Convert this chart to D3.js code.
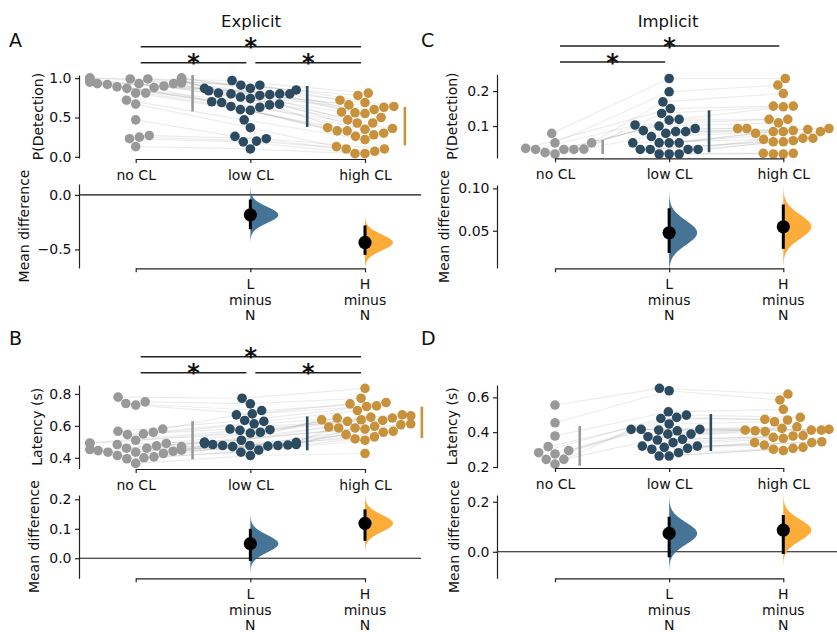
<!DOCTYPE html>
<html><head><meta charset="utf-8">
<script src="https://cdn.jsdelivr.net/npm/d3@7"></script>
<style>
body{margin:0;background:#fff;}
svg text{font-family:"DejaVu Sans",sans-serif;fill:#111;}
.axis .domain,.axis .tick line{stroke:#222;stroke-width:1.2;}
.axis text{font-size:14px;fill:#111;font-family:"DejaVu Sans",sans-serif;}
</style></head><body>
<svg id="chart" width="837" height="632"></svg>
<script>
// ---------- categories & labels ----------
const categories = ["no CL", "low CL", "high CL"];
const diffNames = [["L", "minus", "N"], ["H", "minus", "N"]];
const titles = ["Explicit", "Implicit"];
const panelLetters = ["A", "C", "B", "D"];

// ---------- A: Explicit, P(Detection) ----------
const expDetNo = [1.0, 1.0, 1.0, 1.0, 0.99, 0.99, 0.98, 0.98, 0.97, 0.96, 0.95, 0.95, 0.94, 0.93, 0.93, 0.93, 0.92, 0.90, 0.89, 0.88, 0.87, 0.81, 0.81, 0.72, 0.67, 0.47, 0.27, 0.25, 0.23, 0.13];
const expDetLow = [0.97, 0.91, 0.91, 0.87, 0.87, 0.85, 0.84, 0.81, 0.80, 0.80, 0.80, 0.79, 0.78, 0.76, 0.74, 0.70, 0.69, 0.67, 0.66, 0.64, 0.63, 0.60, 0.59, 0.47, 0.37, 0.26, 0.23, 0.20, 0.19, 0.10];
const expDetHigh = [0.81, 0.78, 0.72, 0.69, 0.66, 0.64, 0.63, 0.60, 0.57, 0.56, 0.55, 0.50, 0.47, 0.43, 0.43, 0.37, 0.36, 0.35, 0.33, 0.33, 0.30, 0.28, 0.26, 0.22, 0.13, 0.10, 0.10, 0.07, 0.04, 0.04];
const expDetMean = [0.81, 0.64, 0.39];
const expDetSD = [0.234, 0.26, 0.244];
const expDetDiff = [-0.183, -0.436];
const expDetCILo = [-0.315, -0.55];
const expDetCIHi = [-0.042, -0.28];
const expDetSig = [[0, 2], [0, 1], [1, 2]];
const expDetTicks = [0.0, 0.5, 1.0];
const expDetDiffTicks = [-0.5, 0.0];

// ---------- C: Implicit, P(Detection) ----------
const impDetNo = [0.079, 0.052, 0.052, 0.036, 0.034, 0.033, 0.033, 0.033, 0.024, 0.020];
const impDetLow = [0.236, 0.198, 0.169, 0.150, 0.136, 0.119, 0.117, 0.103, 0.100, 0.093, 0.087, 0.084, 0.084, 0.079, 0.070, 0.052, 0.052, 0.052, 0.052, 0.033, 0.033, 0.033, 0.033, 0.020, 0.020, 0.020];
const impDetHigh = [0.236, 0.217, 0.193, 0.157, 0.157, 0.155, 0.119, 0.119, 0.109, 0.093, 0.093, 0.093, 0.090, 0.087, 0.084, 0.084, 0.084, 0.079, 0.065, 0.065, 0.062, 0.058, 0.055, 0.055, 0.022, 0.022, 0.020, 0.020];
const impDetMean = [0.040, 0.085, 0.095];
const impDetSD = [0.020, 0.060, 0.060];
const impDetDiff = [0.0476, 0.0547];
const impDetCILo = [0.0237, 0.0286];
const impDetCIHi = [0.0765, 0.081];
const impDetSig = [[0, 2], [0, 1]];
const impDetTicks = [0.1, 0.2];
const impDetDiffTicks = [0.05, 0.10];

// ---------- B: Explicit, Latency ----------
const expLatNo = [0.78, 0.75, 0.74, 0.73, 0.58, 0.566, 0.56, 0.55, 0.545, 0.51, 0.493, 0.49, 0.49, 0.483, 0.475, 0.47, 0.46, 0.46, 0.452, 0.448, 0.445, 0.441, 0.435, 0.435, 0.427, 0.414, 0.406, 0.40, 0.394, 0.365];
const expLatLow = [0.773, 0.738, 0.696, 0.675, 0.669, 0.634, 0.628, 0.613, 0.58, 0.576, 0.572, 0.56, 0.555, 0.51, 0.497, 0.497, 0.497, 0.49, 0.489, 0.483, 0.483, 0.48, 0.477, 0.477, 0.477, 0.473, 0.47, 0.448, 0.435, 0.414];
const expLatHigh = [0.835, 0.773, 0.746, 0.738, 0.725, 0.721, 0.696, 0.669, 0.663, 0.655, 0.649, 0.649, 0.638, 0.638, 0.634, 0.628, 0.613, 0.607, 0.597, 0.593, 0.587, 0.587, 0.58, 0.566, 0.56, 0.545, 0.531, 0.518, 0.51, 0.427];
const expLatMean = [0.51, 0.553, 0.622];
const expLatSD = [0.12, 0.106, 0.098];
const expLatDiff = [0.0495, 0.1186];
const expLatCILo = [-0.009, 0.059];
const expLatCIHi = [0.100, 0.166];
const expLatSig = [[0, 2], [0, 1], [1, 2]];
const expLatTicks = [0.4, 0.6, 0.8];
const expLatDiffTicks = [0.0, 0.1, 0.2];

// ---------- D: Implicit, Latency ----------
const impLatNo = [0.556, 0.454, 0.378, 0.317, 0.294, 0.282, 0.275, 0.244, 0.244, 0.217];
const impLatLow = [0.652, 0.638, 0.517, 0.498, 0.485, 0.479, 0.447, 0.416, 0.416, 0.416, 0.412, 0.408, 0.389, 0.389, 0.374, 0.359, 0.355, 0.340, 0.320, 0.320, 0.313, 0.307, 0.302, 0.282, 0.263, 0.263];
const impLatHigh = [0.619, 0.585, 0.531, 0.485, 0.474, 0.470, 0.460, 0.431, 0.422, 0.416, 0.412, 0.412, 0.412, 0.408, 0.403, 0.380, 0.378, 0.370, 0.365, 0.345, 0.340, 0.340, 0.326, 0.313, 0.307, 0.302, 0.294];
const impLatMean = [0.321, 0.398, 0.405];
const impLatSD = [0.114, 0.106, 0.08];
const impLatDiff = [0.0733, 0.0867];
const impLatCILo = [-0.022, -0.009];
const impLatCIHi = [0.140, 0.147];
const impLatSig = [];
const impLatTicks = [0.2, 0.4, 0.6];
const impLatDiffTicks = [0.0, 0.2];

// ---------- styles ----------
const dotColors = ["#999999", "#2c4b61", "#c8913b"];
const violinColors = ["#999999", "#3c6d91", "#fca92e"];

// ---------- layout ----------
const layout = [
  { letter: panelLetters[0], groups: [expDetNo, expDetLow, expDetHigh], mean: expDetMean, sd: expDetSD,
    diff: expDetDiff, lo: expDetCILo, hi: expDetCIHi, sig: expDetSig,
    xr: [135.7, 365], left: 79, right: 421,
    sw: { top: 75, bottom: 158, dom: [-0.015, 1.04], ticks: expDetTicks, fmt: ".1f", label: "P(Detection)", lx: 37.5, axisY: 159 },
    df: { top: 184, bottom: 268, dom: [-0.67, 0.1], ticks: expDetDiffTicks, fmt: ".1f", lx: 24, axisY: 268.3 },
    sigY: [62.7, 46.7], letterXY: [9, 47], title: titles[0], titleXY: [251, 27] },
  { letter: panelLetters[1], groups: [impDetNo, impDetLow, impDetHigh], mean: impDetMean, sd: impDetSD,
    diff: impDetDiff, lo: impDetCILo, hi: impDetCIHi, sig: impDetSig,
    xr: [555, 783.3], left: 497, right: 839,
    sw: { top: 74.3, bottom: 158, dom: [0.0086, 0.248], ticks: impDetTicks, fmt: ".1f", label: "P(Detection)", lx: 451.5, axisY: 158.3 },
    df: { top: 185, bottom: 268, dom: [0.006, 0.104], ticks: impDetDiffTicks, fmt: ".2f", lx: 444, axisY: 268.3 },
    sigY: [62, 46], letterXY: [421, 47], title: titles[1], titleXY: [668, 27] },
  { letter: panelLetters[2], groups: [expLatNo, expLatLow, expLatHigh], mean: expLatMean, sd: expLatSD,
    diff: expLatDiff, lo: expLatCILo, hi: expLatCIHi, sig: expLatSig,
    xr: [135.7, 365], left: 79, right: 421,
    sw: { top: 385, bottom: 468.5, dom: [0.333, 0.856], ticks: expLatTicks, fmt: ".1f", label: "Latency (s)", lx: 37, axisY: 469 },
    df: { top: 495, bottom: 578.3, dom: [-0.068, 0.2146], ticks: expLatDiffTicks, fmt: ".1f", lx: 34, axisY: 578.3 },
    sigY: [372.7, 356.7], letterXY: [9, 345], title: null },
  { letter: panelLetters[3], groups: [impLatNo, impLatLow, impLatHigh], mean: impLatMean, sd: impLatSD,
    diff: impLatDiff, lo: impLatCILo, hi: impLatCIHi, sig: impLatSig,
    xr: [555, 783.3], left: 497, right: 839,
    sw: { top: 385, bottom: 467.7, dom: [0.196, 0.671], ticks: impLatTicks, fmt: ".1f", label: "Latency (s)", lx: 452, axisY: 468 },
    df: { top: 495, bottom: 578.3, dom: [-0.106, 0.227], ticks: impLatDiffTicks, fmt: ".1f", lx: 454, axisY: 578.3 },
    sigY: [], letterXY: [421, 345], title: null }
];

const svg = d3.select("#chart");
const DOT_R = 4.8, DOT_D = 10;

function swarm(vals, y, half) {
  const pts = vals.map((v, i) => ({ i, v, py: y(v), dx: 0 }));
  const order = pts.slice().sort((a, b) => a.v - b.v);
  const placed = [];
  for (const p of order) {
    const nb = placed.filter(q => Math.abs(q.py - p.py) < DOT_D);
    const cands = [0];
    for (const q of nb) {
      const h = Math.sqrt(DOT_D * DOT_D - (q.py - p.py) ** 2);
      cands.push(q.dx + h, q.dx - h);
    }
    cands.sort((a, b) => (Math.abs(a) - Math.abs(b)) || (a - b));
    let best = cands[cands.length - 1];
    for (const c of cands) {
      if (nb.every(q => (c - q.dx) ** 2 + (p.py - q.py) ** 2 >= DOT_D * DOT_D - 1e-6)) { best = c; break; }
    }
    p.dx = best; placed.push(p);
  }
  pts.forEach(p => { if (Math.abs(p.dx) > half) p.dx = Math.sign(p.dx) * half; });
  return pts;
}

layout.forEach(P => {
  const x = d3.scalePoint().domain(categories).range(P.xr);
  const step = x.step();
  const yS = d3.scaleLinear().domain(P.sw.dom).range([P.sw.bottom, P.sw.top]);
  const yD = d3.scaleLinear().domain(P.df.dom).range([P.df.bottom, P.df.top]);
  const g = svg.append("g");

  // letter & title
  g.append("text").attr("x", P.letterXY[0]).attr("y", P.letterXY[1]).attr("font-size", 19).text(P.letter);
  if (P.title) g.append("text").attr("x", P.titleXY[0]).attr("y", P.titleXY[1]).attr("text-anchor", "middle").attr("font-size", 16.5).text(P.title);

  // swarms
  const sw = P.groups.map(vals => swarm(vals, yS, 0.4 * step));

  // paired lines
  for (let k = 0; k < 2; k++) {
    const a = sw[k], b = sw[k + 1];
    const n = Math.min(a.length, b.length);
    for (let i = 0; i < n; i++) {
      g.append("line")
        .attr("x1", x(categories[k]) + a[i].dx).attr("y1", a[i].py)
        .attr("x2", x(categories[k + 1]) + b[i].dx).attr("y2", b[i].py)
        .attr("stroke", "#000").attr("stroke-opacity", 0.075).attr("stroke-width", 1.2);
    }
  }
  // dots
  sw.forEach((pts, k) => {
    g.append("g").selectAll("circle").data(pts).join("circle")
      .attr("cx", d => x(categories[k]) + d.dx).attr("cy", d => d.py)
      .attr("r", DOT_R).attr("fill", dotColors[k]);
    // mean ± sd line
    const xm = x(categories[k]) + d3.max(pts, d => d.dx) + 11;
    const top = Math.min(P.mean[k] + P.sd[k], P.sw.dom[1]);
    const bot = Math.max(P.mean[k] - P.sd[k], P.sw.dom[0]);
    g.append("line").attr("x1", xm).attr("x2", xm).attr("y1", yS(top)).attr("y2", yS(bot))
      .attr("stroke", dotColors[k]).attr("stroke-width", 2.6);
  });

  // swarm axes
  g.append("g").attr("class", "axis").attr("transform", `translate(${P.left},0)`)
    .call(d3.axisLeft(yS).tickValues(P.sw.ticks).tickFormat(d3.format(P.sw.fmt)).tickSize(4).tickSizeOuter(0).tickPadding(3.5));
  g.append("g").attr("class", "axis").attr("transform", `translate(0,${P.sw.axisY})`)
    .call(d3.axisBottom(x).tickSize(4).tickSizeOuter(0).tickPadding(7));
  g.append("text").attr("transform", `translate(${P.sw.lx},${(P.sw.top + P.sw.bottom) / 2}) rotate(-90)`)
    .attr("text-anchor", "middle").attr("dominant-baseline", "central").attr("font-size", 14).text(P.sw.label);

  // significance bars
  P.sig.forEach(([c1, c2]) => {
    const level = (c2 - c1 === 2) ? 1 : 0;
    const yb = P.sigY[level];
    const x1 = x(categories[c1]) + 5, x2 = x(categories[c2]) - 4;
    g.append("line").attr("x1", x1).attr("x2", x2).attr("y1", yb).attr("y2", yb)
      .attr("stroke", "#222").attr("stroke-width", 1.5);
    g.append("text").attr("x", (x1 + x2) / 2).attr("y", yb + 8.5).attr("text-anchor", "middle")
      .attr("font-size", 24).attr("font-weight", "bold").text("*");
  });

  // diff panel
  if (P.df.dom[0] < 0 && P.df.dom[1] > 0) {
    g.append("line").attr("x1", P.left).attr("x2", P.right).attr("y1", yD(0)).attr("y2", yD(0))
      .attr("stroke", "#111").attr("stroke-width", 1.1);
  }
  [1, 2].forEach((k, j) => {
    const cx = x(categories[k]);
    const m = P.diff[j], s = (P.hi[j] - P.lo[j]) / 3.7;
    const zs = d3.range(-3.4, 3.4001, 0.05);
    const area = d3.area().curve(d3.curveBasis)
      .x0(cx).x1(z => cx + 28 * Math.exp(-z * z / 2)).y(z => yD(m + z * s));
    g.append("path").attr("d", area(zs)).attr("fill", violinColors[k]).attr("fill-opacity", 0.95);
    g.append("line").attr("x1", cx).attr("x2", cx).attr("y1", yD(P.lo[j])).attr("y2", yD(P.hi[j]))
      .attr("stroke", "#000").attr("stroke-width", 3);
    g.append("circle").attr("cx", cx).attr("cy", yD(m)).attr("r", 6.6).attr("fill", "#000");
  });
  g.append("g").attr("class", "axis").attr("transform", `translate(${P.left},0)`)
    .call(d3.axisLeft(yD).tickValues(P.df.ticks).tickFormat(d3.format(P.df.fmt)).tickSize(4).tickSizeOuter(0).tickPadding(3.5));
  g.append("g").attr("class", "axis").attr("transform", `translate(0,${P.df.axisY})`)
    .call(d3.axisBottom(x).tickSize(4).tickSizeOuter(0).tickFormat(() => ""));
  [1, 2].forEach((k, j) => {
    const t = g.append("text").attr("text-anchor", "middle").attr("font-size", 14)
      .attr("transform", `translate(${x(categories[k])},${P.df.axisY + 21})`);
    diffNames[j].forEach((s, li) => t.append("tspan").attr("x", 0).attr("dy", li ? 15.3 : 0).text(s));
  });
  g.append("text").attr("transform", `translate(${P.df.lx},${(P.df.top + P.df.bottom) / 2}) rotate(-90)`)
    .attr("text-anchor", "middle").attr("dominant-baseline", "central").attr("font-size", 14).text("Mean difference");
});
</script>
</body></html>
